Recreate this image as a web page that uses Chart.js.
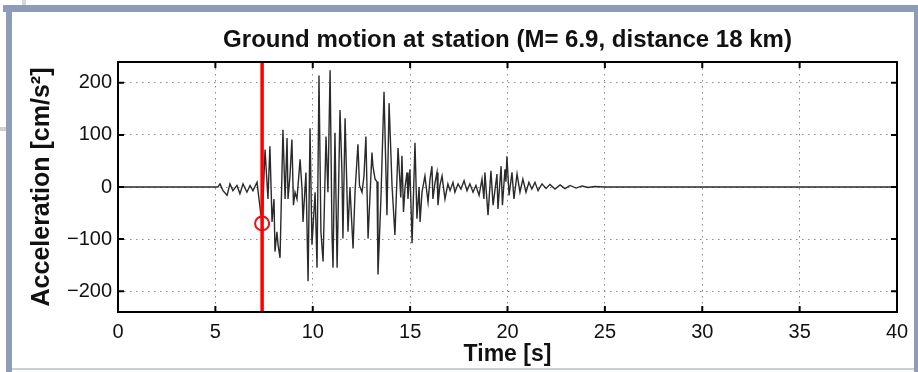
<!DOCTYPE html>
<html>
<head>
<meta charset="utf-8">
<script src="https://cdn.jsdelivr.net/npm/chart.js@4/dist/chart.umd.min.js"></script>
<style>
  body { margin: 0; background: #fff; }
  #wrap { position: relative; width: 918px; height: 372px; overflow: hidden; }
  #wrap canvas { position: absolute; left: 0; top: 0; }
  .band { position: absolute; background: #8e9cba; }
</style>
</head>
<body>
<div id="wrap">
  <canvas id="quake" width="918" height="372"></canvas>
  <div class="band" style="left:3px;top:5px;width:915px;height:7px"></div>
  <div class="band" style="left:6px;top:5px;width:6px;height:367px"></div>
  <div class="band" style="left:914px;top:5px;width:4px;height:367px"></div>
  <div style="position:absolute;left:12px;top:368px;width:902px;height:2px;background:#c9cfdc"></div>
  <div style="position:absolute;left:22px;top:0;width:4px;height:5px;background:#d8d8d8"></div>
  <div style="position:absolute;left:0;top:127px;width:6px;height:4px;background:#cfcfcf"></div>
</div>
<script>
// seismogram samples (time in s, acceleration in cm/s^2)
const times = [
  0, 5.13, 5.24, 5.39, 5.60, 5.75, 5.90, 6.11, 6.26, 6.42, 6.62, 6.78, 6.93, 7.14, 7.24, 7.34, 7.40,
  7.55, 7.70, 7.80, 7.91, 8.01, 8.06, 8.16, 8.22, 8.32, 8.47, 8.58, 8.68, 8.73, 8.83, 8.93, 9.01,
  9.09, 9.19, 9.35, 9.45, 9.50, 9.65, 9.76, 9.86, 9.96, 10.12, 10.22, 10.32, 10.42, 10.53, 10.68,
  10.78, 10.89, 10.99, 11.04, 11.14, 11.25, 11.40, 11.50, 11.55, 11.66, 11.81, 11.91, 12.07, 12.17,
  12.32, 12.40, 12.53, 12.63, 12.73, 12.84, 13.04, 13.09, 13.20, 13.30, 13.35, 13.50, 13.66, 13.81,
  13.92, 14.07, 14.22, 14.38, 14.52, 14.58, 14.66, 14.74, 14.84, 14.89, 14.99, 15.10, 15.25, 15.35,
  15.46, 15.51, 15.61, 15.76, 15.92, 16.02, 16.12, 16.17, 16.28, 16.38, 16.43, 16.53, 16.64, 16.79,
  16.94, 17.05, 17.20, 17.30, 17.46, 17.61, 17.77, 17.92, 18.07, 18.23, 18.38, 18.54, 18.69, 18.79,
  18.84, 19.00, 19.15, 19.26, 19.46, 19.51, 19.67, 19.74, 19.87, 19.92, 19.97, 20.08, 20.23, 20.33,
  20.49, 20.64, 20.79, 20.95, 21.10, 21.25, 21.41, 21.57, 21.77, 21.98, 22.18, 22.44, 22.70, 22.95,
  23.21, 23.52, 23.83, 24.13, 24.49, 24.97, 40
];
const accel = [
  0, 0, 6, -7, -16, 6, -7, 3, -13, 6, -10, 3, -7, 9, -23, -54, -70,
  72, -23, 78, -67, -23, -124, -86, -111, -136, 110, -23, 94, -23, 21, 91, -35,
  -10, -23, 53, -4, -67, 28, -181, 113, -111, -10, -155, 214, -86, -143, 97,
  -10, 224, -92, -155, 104, -155, 148, 28, -99, 132, -86, 0, -118, -10,
  82, 3, -10, 21, 97, -99, 66, 40, 15, 10, -168, -23, 183, -54,
  161, 3, -92, 75, -20, 60, -48, 0, 28, -23, 34, -108, 85, -61,
  0, -67, -10, 21, -29, 15, 40, -23, 9, 28, -35, 3, 21, -23,
  6, -7, 9, -10, 6, -4, 12, -7, 6, -10, 3, -16, 15, -23,
  28, -54, 31, -35, 25, -42, 40, -35, 34, 10, 59, -16, 28, -23,
  25, -10, 15, -10, 9, -4, 9, -7, 6, -3, 5, -4, 4, -3,
  3, -2, 2, -1, 1, 0, 0
];

// P-wave pick
const pickTime = 7.4;
const pickAccel = -70;

const xTicks = [0, 5, 10, 15, 20, 25, 30, 35, 40];
const yTicks = [-200, -100, 0, 100, 200];

const chartTitle = 'Ground motion at station (M= 6.9, distance 18 km)';

const FONT = "'Liberation Sans', Arial, Helvetica, sans-serif";

// MATLAB-like box with inward ticks, title centred over the axes
const boxPlugin = {
  id: 'box',
  afterDatasetsDraw(chart) {
    const { ctx, chartArea: a, scales: { x, y } } = chart;
    ctx.save();
    ctx.strokeStyle = '#000';
    ctx.lineWidth = 2;
    ctx.beginPath();
    xTicks.forEach(v => {
      const px = x.getPixelForValue(v);
      ctx.moveTo(px, a.bottom); ctx.lineTo(px, a.bottom - 6);
      ctx.moveTo(px, a.top); ctx.lineTo(px, a.top + 6);
    });
    yTicks.forEach(v => {
      const py = y.getPixelForValue(v);
      ctx.moveTo(a.left, py); ctx.lineTo(a.left + 6, py);
      ctx.moveTo(a.right, py); ctx.lineTo(a.right - 6, py);
    });
    ctx.stroke();
    ctx.strokeRect(a.left, a.top, a.width, a.height);

    ctx.fillStyle = '#111';
    ctx.font = 'bold 24px ' + FONT;
    ctx.textAlign = 'center';
    ctx.textBaseline = 'middle';
    ctx.fillText(chartTitle, (a.left + a.right) / 2, 40);
    ctx.restore();
  }
};

const data = {
  datasets: [
    {
      label: 'pick line',
      data: [{ x: pickTime, y: -240 }, { x: pickTime, y: 240 }],
      borderColor: '#ff0000',
      borderWidth: 3.5,
      pointRadius: 0,
      order: 0
    },
    {
      label: 'pick',
      data: [{ x: pickTime, y: pickAccel }],
      showLine: false,
      pointStyle: 'circle',
      pointRadius: 7,
      borderColor: '#e8101a',
      borderWidth: 2,
      backgroundColor: 'rgba(0,0,0,0)',
      order: 0
    },
    {
      label: 'Acceleration',
      data: times.map((t, i) => ({ x: t, y: accel[i] })),
      borderColor: '#2a2a2a',
      borderWidth: 1.4,
      pointRadius: 0,
      tension: 0,
      order: 1
    }
  ]
};

const config = {
  type: 'line',
  data: data,
  options: {
    responsive: false,
    animation: false,
    layout: {
      padding: { left: 12, right: 21, top: 62, bottom: 4 }
    },
    plugins: {
      legend: { display: false },
      tooltip: { enabled: false },
      title: { display: false }
    },
    scales: {
      x: {
        type: 'linear',
        min: 0,
        max: 40,
        afterBuildTicks: scale => { scale.ticks = xTicks.map(v => ({ value: v })); },
        afterFit: scale => { scale.height = 56; },
        ticks: {
          color: '#111',
          padding: 8,
          maxRotation: 0,
          font: { family: FONT, size: 20 }
        },
        grid: { color: '#8a8a8a', lineWidth: 1, drawTicks: false },
        border: { display: false, dash: [1.5, 4.5] },
        title: {
          display: true,
          text: 'Time [s]',
          color: '#111',
          padding: 0,
          font: { family: FONT, size: 23, weight: 'bold' }
        }
      },
      y: {
        type: 'linear',
        min: -240,
        max: 240,
        afterBuildTicks: scale => { scale.ticks = yTicks.map(v => ({ value: v })); },
        afterFit: scale => { scale.width = 106; },
        ticks: {
          color: '#111',
          padding: 6,
          font: { family: FONT, size: 20 },
          callback: v => (v < 0 ? '\u2212' + Math.abs(v) : String(v))
        },
        grid: { color: '#8a8a8a', lineWidth: 1, drawTicks: false },
        border: { display: false, dash: [1.5, 4.5] },
        title: {
          display: true,
          text: 'Acceleration [cm/s\u00B2]',
          color: '#111',
          padding: { top: 15, bottom: 0 },
          font: { family: FONT, size: 25, weight: 'bold' }
        }
      }
    }
  },
  plugins: [boxPlugin]
};

document.addEventListener('DOMContentLoaded', function () {
  const ctx = document.getElementById('quake').getContext('2d');
  new Chart(ctx, config);
});
</script>
</body>
</html>
